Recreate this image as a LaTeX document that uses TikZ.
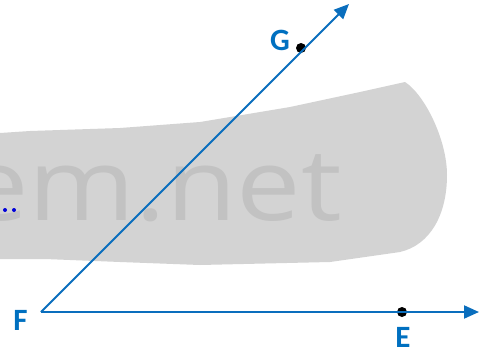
\documentclass[tikz,border=0pt]{standalone}
\usepackage{fontspec}
\setmainfont{Carlito}
\newfontfamily\wmfont{Open Sans}
\usetikzlibrary{arrows.meta}
\definecolor{rayblue}{HTML}{0A6EBD}
\definecolor{lblblue}{HTML}{0070C0}
\definecolor{wmgray}{HTML}{D3D3D3}
\definecolor{wmtext}{HTML}{C2C2C2}
\tikzset{
  ray/.style={draw=rayblue,line width=2pt,-{Triangle[length=15pt,width=13pt]}},
  lbl/.style={text=lblblue,font=\bfseries\fontsize{31}{31}\selectfont,inner sep=0pt},
  pt/.style={circle,fill=black,inner sep=0pt,minimum size=10pt},
}
\begin{document}
\begin{tikzpicture}[x=1pt,y=-1pt]
\useasboundingbox (0,0) rectangle (483,354);
% watermark
\fill[wmgray] (0,133) -- (30,131) -- (120,128) -- (200,122) -- (290,107) -- (360,92) -- (405,82)
  .. controls (425,95) and (447,140) .. (447,175)
  .. controls (447,215) and (430,245) .. (400,252)
  -- (330,262) -- (200,265) -- (120,262) -- (45,259) -- (0,259) -- cycle;
\begin{scope}
\clip (0,0) rectangle (483,354);
\node[anchor=base east,text=wmtext,inner sep=0pt,font=\wmfont\fontsize{100}{100}\selectfont] (wm) at (342,220) {\scalebox{1.15}[1]{em.net}};
\end{scope}
\fill[blue!85!black] (5,210) circle (2pt) (14,210) circle (2pt);
% geometry
\coordinate (F) at (41,312);
\coordinate (Etip) at (479,312);
\coordinate (Gtip) at (349,4);
\node[pt] (E) at (402,312) {};
\node[pt] (G) at (301,48) {};
\draw[ray] (F) -- (Etip);
\draw[ray] (F) -- (Gtip);
\node[lbl,anchor=base] (Fl) at (20.5,330) {F};
\node[lbl,anchor=base] (El) at (403,347) {E};
\node[lbl,anchor=base] (Gl) at (280,50) {G};
\end{tikzpicture}
\end{document}
